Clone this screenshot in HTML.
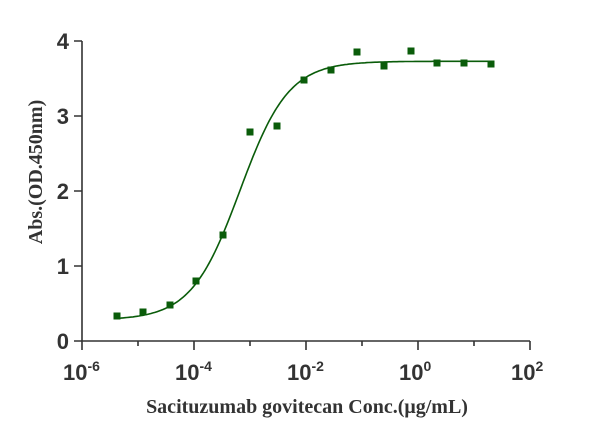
<!DOCTYPE html>
<html><head><meta charset="utf-8"><style>
body{margin:0;background:#fff;width:602px;height:435px;overflow:hidden}
text{font-family:"Liberation Sans",Arial,sans-serif;font-weight:bold;fill:#333}
</style></head><body>
<svg width="602" height="435" viewBox="0 0 602 435" xmlns="http://www.w3.org/2000/svg">
<g stroke="#333" stroke-width="1.6" fill="none">
<path d="M82,41 V341 H530"/>
<path d="M74,41H82M74,116H82M74,191H82M74,266H82M74,341H82"/>
<path d="M82,341v9M138,341v5M194,341v9M250,341v5M306,341v9M362,341v5M418,341v9M474,341v5M530,341v9"/>
</g>
<g font-size="22" text-anchor="end">
<text x="69" y="49">4</text><text x="69" y="124">3</text><text x="69" y="199">2</text><text x="69" y="274">1</text><text x="69" y="349">0</text>
</g>
<g font-size="22">
<text x="63" y="380">10<tspan font-size="14" dy="-9">-6</tspan></text>
<text x="175" y="380">10<tspan font-size="14" dy="-9">-4</tspan></text>
<text x="287" y="380">10<tspan font-size="14" dy="-9">-2</tspan></text>
<text x="399" y="380">10<tspan font-size="14" dy="-9">0</tspan></text>
<text x="511" y="380">10<tspan font-size="14" dy="-9">2</tspan></text>
</g>
<text x="307" y="413" text-anchor="middle" style="font-family:'Liberation Serif',serif" font-size="20" fill="#333">Sacituzumab govitecan Conc.(μg/mL)</text>
<text transform="translate(42,172) rotate(-90)" text-anchor="middle" style="font-family:'Liberation Serif',serif" font-size="20">Abs.(OD.450nm)</text>
<path id="c" fill="none" stroke="#0a5c0a" stroke-width="1.6"/>
<g id="p" fill="#0a5c0a"></g>
</svg>
<script>
var d="";for(var x=117;x<=491;x+=2){var lx=-6+(x-82)/56;var y=0.28+(3.45)/(1+Math.pow(10,(-3.18-lx)*1.0));d+=(x==117?"M":"L")+x+","+(341-75*y).toFixed(1);}
document.getElementById("c").setAttribute("d",d);
var pts=[[117,316],[143,312],[170,305],[196,281],[223,235],[250,132],[277,126],[304,80],[331,70],[357,52],[384,66],[411,51],[437,63],[464,63],[491,64]];
var g=document.getElementById("p"),s="";pts.forEach(function(p){s+='<rect x="'+(p[0]-3.5)+'" y="'+(p[1]-3.5)+'" width="7" height="7"/>';});g.innerHTML=s;
</script>
</body></html>
